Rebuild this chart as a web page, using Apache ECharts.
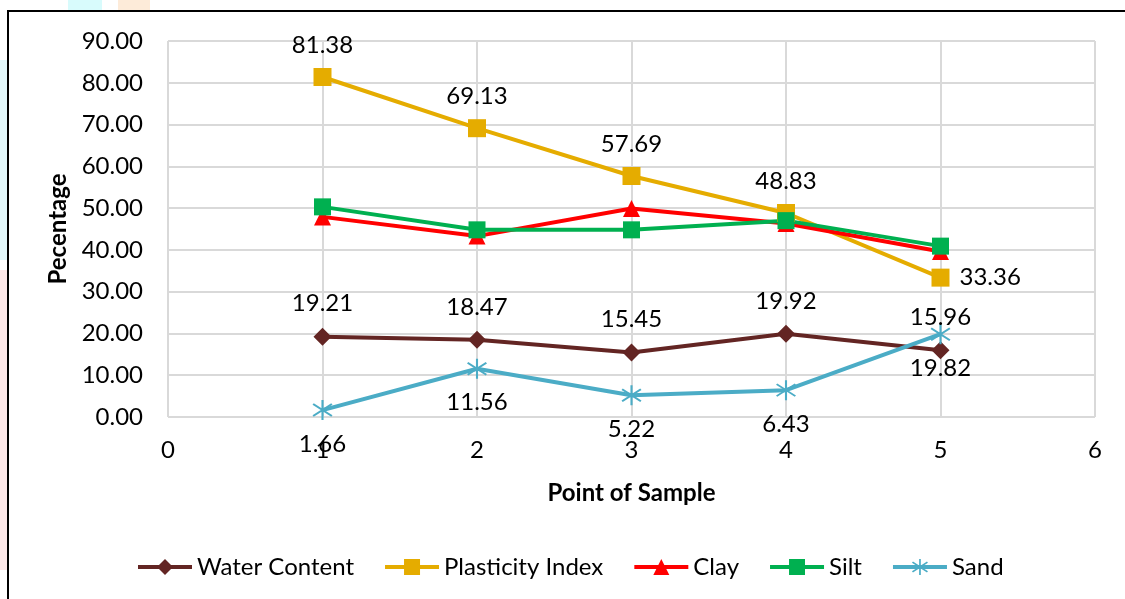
<!DOCTYPE html>
<html>
<head>
<meta charset="utf-8">
<script src="https://cdn.jsdelivr.net/npm/echarts@6/dist/echarts.min.js"></script>
<style>html,body{margin:0;padding:0;background:#fff;}#chart{width:1125px;height:599px;}</style>
</head>
<body>
<div id="chart"></div>
<script>
const samplePoints = [1, 2, 3, 4, 5];
const waterContent = [19.21, 18.47, 15.45, 19.92, 15.96];
const plasticityIndex = [81.38, 69.13, 57.69, 48.83, 33.36];
const clay = [47.9, 43.3, 49.9, 46.3, 39.6];
const silt = [50.3, 44.8, 44.8, 47.0, 40.9];
const sand = [1.66, 11.56, 5.22, 6.43, 19.82];
const seriesNames = ['Water Content', 'Plasticity Index', 'Clay', 'Silt', 'Sand'];

const FONT = 'Lato';
const asterisk = 'path://M9.1,0 L10.9,0 L10.9,20 L9.1,20 Z M2.54,3.28 L18.54,15.28 L17.46,16.72 L1.46,4.72 Z M1.46,15.28 L17.46,3.28 L18.54,4.72 L2.54,16.72 Z';

function pairs(vals) { return samplePoints.map((x, i) => [x, vals[i]]); }

const labelStyle = { fontFamily: FONT, fontSize: 24, color: '#000', formatter: p => p.value[1].toFixed(2) };

const plasticityData = pairs(plasticityIndex).map((d, i) =>
  i === plasticityIndex.length - 1 ? { value: d, label: { position: 'right', distance: 10 } } : d);

const chart = echarts.init(document.getElementById('chart'), null, { renderer: 'canvas' });
chart.setOption({
  backgroundColor: '#fff',
  animation: false,
  graphic: [
    { type: 'rect', shape: { x: 68, y: 0, width: 34, height: 10 }, style: { fill: '#d8fbfc' }, z: -10 },
    { type: 'rect', shape: { x: 118, y: 0, width: 32, height: 10 }, style: { fill: '#fdebd9' }, z: -10 },
    { type: 'rect', shape: { x: 0, y: 60, width: 7, height: 200 }, style: { fill: '#e3f8fb' }, z: -10 },
    { type: 'rect', shape: { x: 0, y: 270, width: 7, height: 300 }, style: { fill: '#fde8e8' }, z: -10 },
    { type: 'rect', shape: { x: 8, y: 11, width: 1130, height: 600 }, style: { fill: 'none', stroke: '#000', lineWidth: 2 }, z: -5 }
  ],
  grid: { left: 168, right: 30, top: 41, bottom: 182, containLabel: false },
  legend: {
    data: seriesNames,
    left: 131, top: 550,
    itemWidth: 54, itemHeight: 20, itemGap: 29,
    lineStyle: { width: 4 },
    textStyle: { fontFamily: FONT, fontSize: 24, color: '#000' }
  },
  xAxis: {
    type: 'value', min: 0, max: 6, interval: 1,
    name: 'Point of Sample', nameLocation: 'middle', nameGap: 64,
    nameTextStyle: { fontFamily: FONT, fontSize: 24, fontWeight: 'bold', color: '#000' },
    axisLine: { show: false }, axisTick: { show: false },
    axisLabel: { fontFamily: FONT, fontSize: 24, color: '#000', margin: 21 },
    splitLine: { show: true, lineStyle: { color: '#d9d9d9', width: 2 } }
  },
  yAxis: {
    type: 'value', min: 0, max: 90, interval: 10,
    name: 'Pecentage', nameLocation: 'middle', nameGap: 96,
    nameTextStyle: { fontFamily: FONT, fontSize: 24, fontWeight: 'bold', color: '#000' },
    axisLine: { show: false }, axisTick: { show: false },
    axisLabel: { fontFamily: FONT, fontSize: 24, color: '#000', margin: 25, formatter: v => v.toFixed(2) },
    splitLine: { show: true, lineStyle: { color: '#d9d9d9', width: 2 } }
  },
  series: [
    { name: 'Water Content', type: 'line', data: pairs(waterContent), color: '#632523',
      symbol: 'diamond', symbolSize: 18, lineStyle: { width: 4 },
      label: Object.assign({ show: true, position: 'top', distance: 12 }, labelStyle), z: 3 },
    { name: 'Plasticity Index', type: 'line', data: plasticityData, color: '#E5AC00',
      symbol: 'rect', symbolSize: 18, lineStyle: { width: 4 },
      label: Object.assign({ show: true, position: 'top', distance: 11 }, labelStyle), z: 2 },
    { name: 'Clay', type: 'line', data: pairs(clay), color: '#FF0000',
      symbol: 'triangle', symbolSize: 17, lineStyle: { width: 4 }, z: 2 },
    { name: 'Silt', type: 'line', data: pairs(silt), color: '#00B050',
      symbol: 'rect', symbolSize: 17, lineStyle: { width: 4 }, z: 2 },
    { name: 'Sand', type: 'line', data: pairs(sand), color: '#4BACC6',
      symbol: asterisk, symbolSize: 20, lineStyle: { width: 4 },
      label: Object.assign({ show: true, position: 'bottom', distance: 12 }, labelStyle), z: 3 }
  ]
});
</script>
</body>
</html>
